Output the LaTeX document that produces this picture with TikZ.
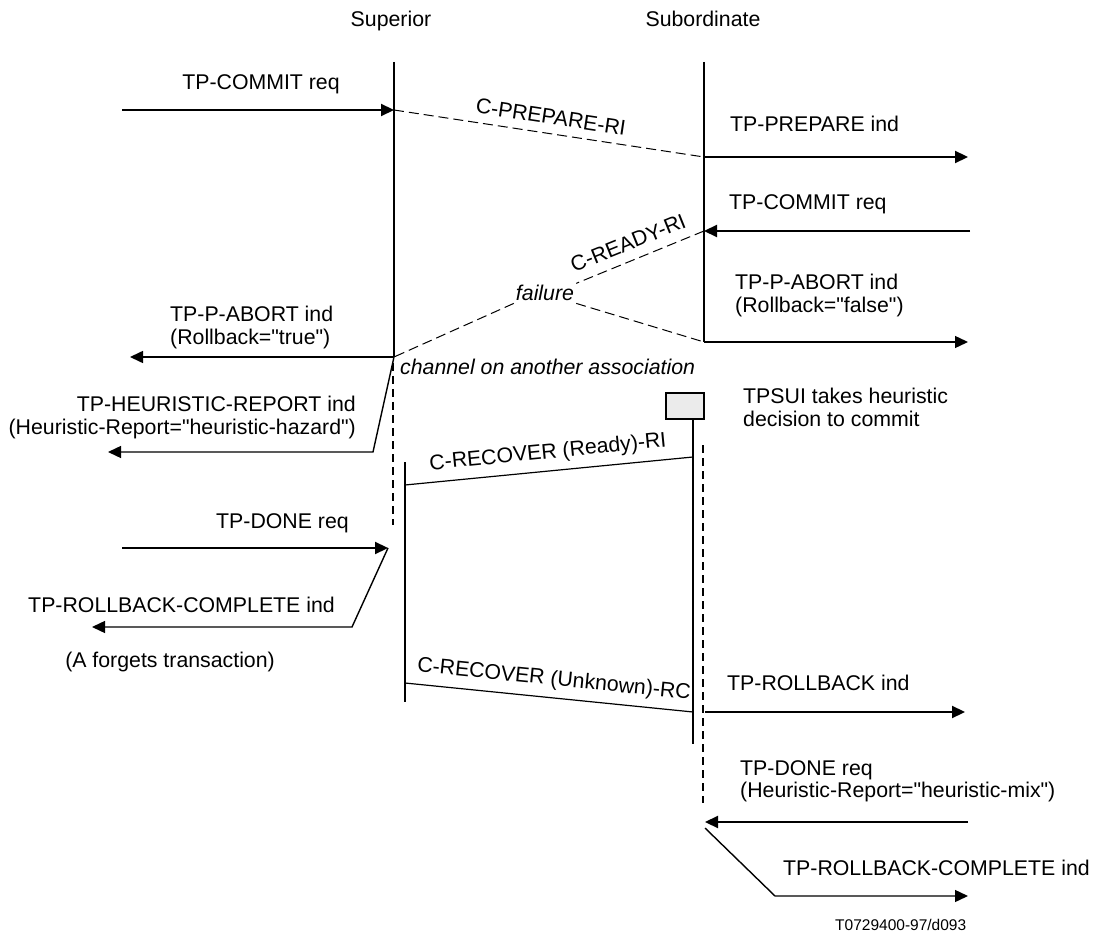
\documentclass[tikz,border=0pt]{standalone}
\usepackage{fontspec}
\setmainfont{Liberation Sans}[Ligatures=TeXOff]
\usetikzlibrary{arrows.meta}
\begin{document}
\begin{tikzpicture}[x=1pt,y=-1pt,
  font=\fontsize{21.3}{23}\selectfont,
  txt/.style={inner sep=0pt},
  itxt/.style={inner sep=0pt, font=\fontsize{21.3}{23}\selectfont\itshape},
  life/.style={line width=1.2pt},
  act/.style={line width=2.2pt},
  actdash/.style={line width=1.8pt, dash pattern=on 8pt off 5pt},
  pdu/.style={line width=1pt, dash pattern=on 10pt off 5pt},
  rec/.style={line width=1.2pt},
  tip/.style={-{Triangle[length=13pt,width=12pt]}},
  thickmsg/.style={tip, line width=2.2pt},
  thinmsg/.style={tip, line width=1.4pt},
  box/.style={draw, line width=1.2pt, fill=black!8, minimum width=38pt, minimum height=26pt, inner sep=0pt}
]
\useasboundingbox (0,0) rectangle (1093,933);

% headings
\node[txt, anchor=base] (hsup) at (391,27) {Superior};
\node[txt, anchor=base] (hsub) at (703,27) {Subordinate};

% lifeline coordinates
\coordinate (supTop) at (394,62);
\coordinate (supF) at (394,357);
\coordinate (supDashTop) at (393,363);
\coordinate (supDashBot) at (393,525);
\coordinate (subTop) at (704,62);
\coordinate (subF) at (704,342);
\coordinate (supActTop) at (405,462);
\coordinate (supActBot) at (405,702);
\coordinate (subActBot) at (693,744);
\coordinate (subDashTop) at (703,445);
\coordinate (subDashBot) at (703,803);

\draw[life] (supTop) -- (supF);
\draw[life] (subTop) -- (subF);
\draw[actdash] (supDashTop) -- (supDashBot);
\draw[actdash] (subDashTop) -- (subDashBot);
\draw[act] (supActTop) -- (supActBot);

% TPSUI box
\node[box] (tpsui) at (685,406) {};
\draw[act] (tpsui.south -| subActBot) -- (subActBot);
\node[txt, anchor=base west] (tpsuiA) at (743,403) {TPSUI takes heuristic};
\node[txt, anchor=base west] (tpsuiB) at (743,427) {decision to commit};

% message points
\coordinate (c1L) at (122,110);
\coordinate (c1R) at (394,110);
\coordinate (p1) at (704,157);
\coordinate (p1R) at (968,157);
\coordinate (cm2R) at (970,231);
\coordinate (cm2L) at (704,231);
\coordinate (ab2R) at (968,342);
\coordinate (ab1L) at (130,357);
\coordinate (hr1) at (373,452);
\coordinate (hr1L) at (108,452);
\coordinate (rr1) at (693,457);
\coordinate (rr2) at (405,485);
\coordinate (dn1L) at (122,548);
\coordinate (dn1R) at (388,548);
\coordinate (rc1) at (352,627);
\coordinate (rc1L) at (92,627);
\coordinate (ru1) at (405,683);
\coordinate (ru2) at (693,712);
\coordinate (rb1) at (705,712);
\coordinate (rb1R) at (965,712);
\coordinate (dn2R) at (968,822);
\coordinate (dn2L) at (705,822);
\coordinate (rc2a) at (705,828);
\coordinate (rc2b) at (775,896);
\coordinate (rc2R) at (968,896);

% failure
\node[itxt, anchor=base, inner sep=2pt] (fail) at (545,301) {failure};

% messages
\draw[thickmsg] (c1L) -- (c1R);
\node[txt, anchor=base] (l1) at (261,90) {TP-COMMIT req};

\draw[pdu] (c1R) -- (p1);
\node[txt, rotate=-8.6] (lprep) at (551,117) {C-PREPARE-RI};

\draw[thickmsg] (p1) -- (p1R);
\node[txt, anchor=base west] (l2) at (730,132) {TP-PREPARE ind};

\draw[thickmsg] (cm2R) -- (cm2L);
\node[txt, anchor=base west] (l3) at (729,210) {TP-COMMIT req};

\draw[pdu] (cm2L) -- (fail.north east);
\node[txt, rotate=22] (lready) at (628,243) {C-READY-RI};

\draw[pdu] (fail.south west) -- (supF);
\draw[pdu] (fail.south east) -- (subF);

\draw[thinmsg] (subF) -- (ab2R);
\node[txt, anchor=base west] (l4a) at (735,290) {TP-P-ABORT ind};
\node[txt, anchor=base west] (l4b) at (735,313) {(Rollback="false")};

\draw[thinmsg, line width=1.6pt] (supF) -- (ab1L);
\node[txt, anchor=base west] (l5a) at (170,322) {TP-P-ABORT ind};
\node[txt, anchor=base west] (l5b) at (170,345) {(Rollback="true")};

\node[itxt, anchor=base west] (chan) at (400,375) {channel on another association};

\draw[thinmsg] (supF) -- (hr1) -- (hr1L);
\node[txt, anchor=base east] (l6a) at (356,412) {TP-HEURISTIC-REPORT ind};
\node[txt, anchor=base east] (l6b) at (356,435) {(Heuristic-Report="heuristic-hazard")};

\draw[rec] (rr1) -- (rr2);
\node[txt, rotate=5.6] (lrr) at (548,453) {C-RECOVER (Ready)-RI};

\draw[thickmsg] (dn1L) -- (dn1R);
\node[txt, anchor=base west] (l7) at (216,528) {TP-DONE req};

\draw[thinmsg] (dn1R) -- (rc1) -- (rc1L);
\node[txt, anchor=base east] (l8) at (335,612) {TP-ROLLBACK-COMPLETE ind};
\node[txt, anchor=base east] (l9) at (275,667) {(A forgets transaction)};

\draw[rec] (ru1) -- (ru2);
\node[txt, rotate=-5.75] (lru) at (554,680) {C-RECOVER (Unknown)-RC};

\draw[thickmsg] (rb1) -- (rb1R);
\node[txt, anchor=base west] (l10) at (727,690) {TP-ROLLBACK ind};

\draw[thickmsg] (dn2R) -- (dn2L);
\node[txt, anchor=base west] (l11a) at (740,775) {TP-DONE req};
\node[txt, anchor=base west] (l11b) at (740,797) {(Heuristic-Report="heuristic-mix")};

\draw[thinmsg] (rc2a) -- (rc2b) -- (rc2R);
\node[txt, anchor=base west] (l12) at (783,875) {TP-ROLLBACK-COMPLETE ind};

\node[txt, anchor=base west, font=\fontsize{15.5}{18}\selectfont] (tag) at (835,930) {T0729400-97/d093};
\end{tikzpicture}
\end{document}
